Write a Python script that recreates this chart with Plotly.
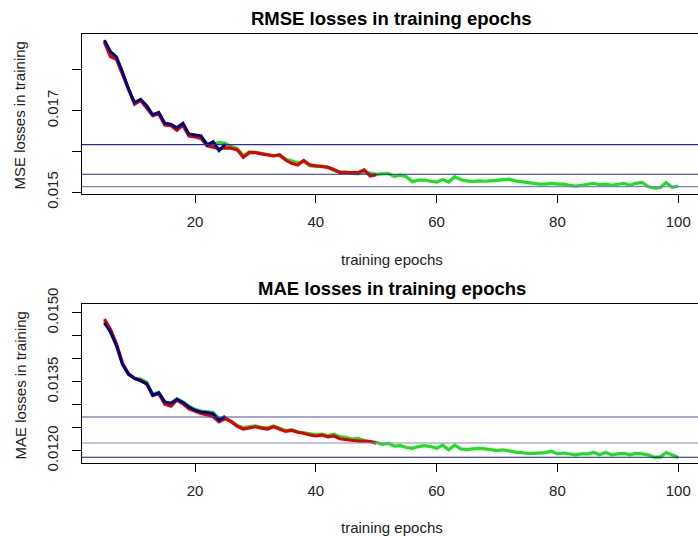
import plotly.graph_objects as go

# ---------------- data ----------------
epochs_green = list(range(5, 101))
epochs_red = list(range(5, 51))
epochs_blue = list(range(5, 26))

rmse_green = [0.01870, 0.01838, 0.01828, 0.01791, 0.01753, 0.01717, 0.01726, 0.01710, 0.01691, 0.01694,
              0.01667, 0.01665, 0.01656, 0.01666, 0.01640, 0.01638, 0.01635, 0.01620, 0.01618, 0.01622,
              0.01620, 0.01612, 0.01607, 0.01590, 0.01599, 0.01598, 0.01596, 0.01593, 0.01590, 0.01590,
              0.01581, 0.01577, 0.01572, 0.01576, 0.01565, 0.01563, 0.01564, 0.01562, 0.01553, 0.01550,
              0.01550, 0.01546, 0.01545, 0.01550, 0.01546, 0.01544, 0.01545, 0.01546, 0.01539, 0.01542,
              0.01538, 0.01526, 0.01530, 0.01530, 0.01527, 0.01525, 0.01531, 0.01525, 0.01538, 0.01531,
              0.01528, 0.01526, 0.01528, 0.01527, 0.01528, 0.01529, 0.01530, 0.01532, 0.01528, 0.01526,
              0.01524, 0.01522, 0.01520, 0.01520, 0.01522, 0.01520, 0.01520, 0.01517, 0.01515, 0.01517,
              0.01519, 0.01522, 0.01518, 0.01520, 0.01517, 0.01519, 0.01522, 0.01517, 0.01522, 0.01524,
              0.01514, 0.01510, 0.01511, 0.01524, 0.01512, 0.01515]
rmse_red = [0.01868, 0.01833, 0.01826, 0.01790, 0.01752, 0.01716, 0.01725, 0.01708, 0.01688, 0.01692,
            0.01665, 0.01663, 0.01652, 0.01664, 0.01638, 0.01636, 0.01632, 0.01614, 0.01611, 0.01607,
            0.01609, 0.01608, 0.01604, 0.01586, 0.01597, 0.01597, 0.01594, 0.01591, 0.01589, 0.01592,
            0.01579, 0.01571, 0.01567, 0.01578, 0.01567, 0.01565, 0.01563, 0.01561, 0.01556, 0.01548,
            0.01548, 0.01548, 0.01548, 0.01555, 0.01540, 0.01543]
rmse_blue = [0.01873, 0.01845, 0.01832, 0.01795, 0.01752, 0.01720, 0.01728, 0.01712, 0.01690, 0.01696,
             0.01669, 0.01667, 0.01658, 0.01669, 0.01643, 0.01641, 0.01638, 0.01616, 0.01624, 0.01602,
             0.01618]
rmse_hlines = [0.016167, 0.015441, 0.015137]

mae_green = [0.01482, 0.01461, 0.01431, 0.01389, 0.01367, 0.01358, 0.01356, 0.01349, 0.01323, 0.01327,
             0.01305, 0.01302, 0.01313, 0.01306, 0.01297, 0.01290, 0.01286, 0.01285, 0.01283, 0.01270,
             0.01272, 0.01264, 0.01255, 0.01250, 0.01252, 0.01254, 0.01251, 0.01250, 0.01254, 0.01249,
             0.01244, 0.01246, 0.01241, 0.01239, 0.01237, 0.01235, 0.01236, 0.01233, 0.01236, 0.01230,
             0.01229, 0.01225, 0.01227, 0.01222, 0.01220, 0.01218, 0.01214, 0.01216, 0.01210, 0.01211,
             0.01207, 0.01205, 0.01209, 0.01211, 0.01209, 0.01205, 0.01212, 0.01202, 0.01212, 0.01204,
             0.01203, 0.01204, 0.01205, 0.01204, 0.01202, 0.01200, 0.01202, 0.01199, 0.01197, 0.01196,
             0.01194, 0.01194, 0.01195, 0.01196, 0.01199, 0.01193, 0.01195, 0.01193, 0.01191, 0.01193,
             0.01193, 0.01196, 0.01191, 0.01196, 0.01191, 0.01193, 0.01194, 0.01191, 0.01194, 0.01193,
             0.01191, 0.01186, 0.01186, 0.01196, 0.01190, 0.01185]
mae_red = [0.01486, 0.01464, 0.01432, 0.01390, 0.01367, 0.01357, 0.01353, 0.01345, 0.01320, 0.01324,
           0.01301, 0.01297, 0.01310, 0.01302, 0.01291, 0.01286, 0.01281, 0.01278, 0.01274, 0.01263,
           0.01270, 0.01263, 0.01253, 0.01247, 0.01249, 0.01252, 0.01249, 0.01247, 0.01252, 0.01247,
           0.01242, 0.01244, 0.01240, 0.01238, 0.01234, 0.01232, 0.01234, 0.01230, 0.01232, 0.01226,
           0.01224, 0.01222, 0.01221, 0.01221, 0.01220, 0.01216]
mae_blue = [0.01478, 0.01458, 0.01428, 0.01387, 0.01366, 0.01357, 0.01352, 0.01346, 0.01321, 0.01326,
            0.01306, 0.01303, 0.01312, 0.01305, 0.01295, 0.01288, 0.01284, 0.01283, 0.01280, 0.01266,
            0.01275]
mae_hlines = [0.012733, 0.012167, 0.011857]

rmse_tickvals = [0.015, 0.016, 0.017, 0.018]
rmse_ticktext = ["0.015", "", "0.017", ""]
mae_tickvals = [0.0120, 0.0125, 0.0130, 0.0135, 0.0140, 0.0145, 0.0150]
mae_ticktext = ["0.0120", "", "", "0.0135", "", "", "0.0150"]
x_tickvals = [20, 40, 60, 80, 100]

titles = ["RMSE losses in training epochs", "MAE losses in training epochs"]
ylabels = ["MSE losses in training", "MAE losses in training"]
xlabel = "training epochs"

# ---------------- figure ----------------
W, H = 698, 536
FONT = "Liberation Sans, Arial, sans-serif"
GREEN, RED, NAVY = "#1ee01e", "#e00000", "#000080"

fig = go.Figure()

panels = [
    dict(xa="x", ya="y", g=rmse_green, r=rmse_red, b=rmse_blue, hl=rmse_hlines,
         hl_colors=["#2a2aa0", "#2a2aa0", "#8080c8"]),
    dict(xa="x2", ya="y2", g=mae_green, r=mae_red, b=mae_blue, hl=mae_hlines,
         hl_colors=["#4848b0", "#8888cc", "#1a1a8a"]),
]

for p in panels:
    fig.add_trace(go.Scatter(x=epochs_green, y=p["g"], mode="lines", xaxis=p["xa"], yaxis=p["ya"],
                             line=dict(color=GREEN, width=3.2), showlegend=False))
    fig.add_trace(go.Scatter(x=epochs_red, y=p["r"], mode="lines", xaxis=p["xa"], yaxis=p["ya"],
                             line=dict(color=RED, width=3.2), showlegend=False))
    fig.add_trace(go.Scatter(x=epochs_blue, y=p["b"], mode="lines", xaxis=p["xa"], yaxis=p["ya"],
                             line=dict(color=NAVY, width=3), showlegend=False))
    for v, c in zip(p["hl"], p["hl_colors"]):
        fig.add_shape(type="line", xref=p["xa"] + " domain", yref=p["ya"], x0=0, x1=1, y0=v, y1=v,
                      line=dict(color=c, width=1.2))

xdom = [82 / W, 1.0]
top_dom = [1 - 194.3 / H, 1 - 34.3 / H]
bot_dom = [1 - 463.3 / H, 1 - 304.3 / H]
xr = [1.29, 1.29 + (W - 82) / 6.04]

xcommon = dict(range=xr, tickvals=x_tickvals, ticks="outside", ticklen=8, tickcolor="black",
               showline=True, mirror=True, linecolor="black", linewidth=1, showgrid=False,
               zeroline=False, tickfont=dict(family=FONT, size=15, color="#222"),
               ticklabelstandoff=6, automargin=False)
ycommon = dict(ticks="outside", ticklen=9, tickcolor="black", showline=True, mirror=False,
               linecolor="black", linewidth=1, showgrid=False, zeroline=False, tickangle=-90,
               tickfont=dict(family=FONT, size=15, color="#222"), ticklabelstandoff=8,
               automargin=False)

fig.update_layout(
    template="none",
    width=W, height=H, margin=dict(l=0, r=0, t=0, b=0, pad=0, autoexpand=False),
    paper_bgcolor="white", plot_bgcolor="white",
    xaxis=dict(domain=xdom, anchor="y", **xcommon),
    yaxis=dict(domain=top_dom, anchor="x", range=[0.01495, 0.018873],
               tickvals=rmse_tickvals, ticktext=rmse_ticktext, **ycommon),
    xaxis2=dict(domain=xdom, anchor="y2", **xcommon),
    yaxis2=dict(domain=bot_dom, anchor="x2", range=[0.011726, 0.015183],
                tickvals=mae_tickvals, ticktext=mae_ticktext, **ycommon),
)

cx = 391.5 / W
ann = []
for title, ty in zip(titles, [18.5, 288.5]):
    ann.append(dict(text="<b>" + title + "</b>", x=cx, y=1 - ty / H, xref="paper", yref="paper",
                    xanchor="center", yanchor="middle", showarrow=False,
                    font=dict(family=FONT, size=18.5, color="black")))
for ty in [259.5, 527.5]:
    ann.append(dict(text=xlabel, x=cx, y=1 - ty / H, xref="paper", yref="paper",
                    xanchor="center", yanchor="middle", showarrow=False,
                    font=dict(family=FONT, size=15, color="#222")))
for lab, ty in zip(ylabels, [116, 386]):
    ann.append(dict(text=lab, x=19.5 / W, y=1 - ty / H, xref="paper", yref="paper",
                    xanchor="center", yanchor="middle", showarrow=False, textangle=-90,
                    font=dict(family=FONT, size=15, color="#222")))
fig.update_layout(annotations=ann)

fig.write_html("out.html")
